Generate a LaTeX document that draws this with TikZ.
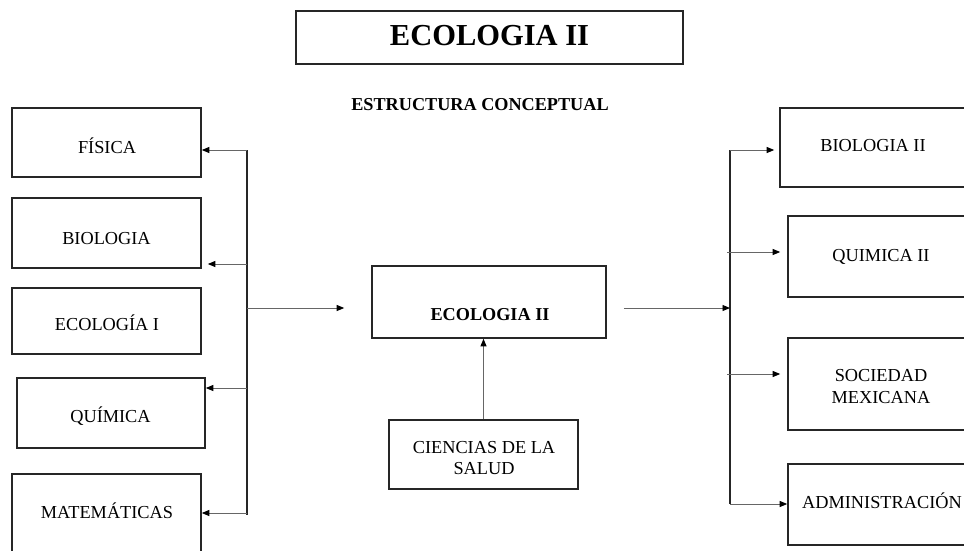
\documentclass[tikz,border=0pt]{standalone}
\usepackage{fontspec}
\setmainfont{Liberation Serif}
\usetikzlibrary{arrows.meta}
\begin{document}
\begin{tikzpicture}[x=1pt,y=-1pt,
  box/.style={draw=black!85, line width=1.6pt, rectangle, inner sep=0pt},
  lbl/.style={anchor=base, inner sep=0pt, font=\fontsize{18.3}{21}\selectfont},
  lblb/.style={anchor=base, inner sep=0pt, font=\fontsize{18.2}{21}\selectfont\bfseries},
  mlbl/.style={anchor=center, inner sep=0pt, align=center, font=\fontsize{18.3}{21.5}\selectfont},
  arr/.style={-{Triangle[length=7.5pt,width=6pt,black]}, line width=0.9pt, draw=black!60},
  bus/.style={line width=1.4pt, draw=black!85}]
\useasboundingbox (0,0) rectangle (964,550);
\clip (0,0) rectangle (964,550);
\fill[white] (0,0) rectangle (964,550);

% title
\node[box, minimum width=387pt, minimum height=53pt] (title) at (489.5,37.5) {};
\node[anchor=base, inner sep=0pt, font=\fontsize{30.5}{34}\selectfont\bfseries] (titletxt) at (489.5,45) {ECOLOGIA II};
\node[lblb] (estr) at (480,110) {ESTRUCTURA CONCEPTUAL};

% left boxes
\node[box, minimum width=189pt, minimum height=69pt] (fis) at (106.5,142.5) {};
\node[lbl] (fist) at (107,153.3) {FÍSICA};
\node[box, minimum width=189pt, minimum height=70pt] (bio) at (106.5,233) {};
\node[lbl] (biot) at (106.5,244) {BIOLOGIA};
\node[box, minimum width=189pt, minimum height=66pt] (eco1) at (106.5,321) {};
\node[lbl] (eco1t) at (107,330.7) {ECOLOGÍA I};
\node[box, minimum width=188pt, minimum height=70pt] (qui) at (111,413) {};
\node[lbl] (quit) at (110.5,422) {QUÍMICA};
\node[box, minimum width=189pt, minimum height=86pt] (mat) at (106.5,517) {};
\node[lbl] (matt) at (107,518) {MATEMÁTICAS};

% center
\node[box, minimum width=234pt, minimum height=72pt] (eco) at (489,302) {};
\node[lblb] (ecot) at (490,320) {ECOLOGIA II};
\node[box, minimum width=189pt, minimum height=69pt] (cs) at (483.5,454.5) {};
\node[mlbl] (cst) at (484,458) {CIENCIAS DE LA\\SALUD};

% right boxes
\node[box, minimum width=186pt, minimum height=79pt] (bio2) at (873,147.5) {};
\node[lbl] (bio2t) at (873,151.7) {BIOLOGIA II};
\node[box, minimum width=188pt, minimum height=81pt] (qui2) at (882,256.5) {};
\node[lbl] (qui2t) at (881,261.7) {QUIMICA II};
\node[box, minimum width=188pt, minimum height=92pt] (soc) at (882,384) {};
\node[mlbl] (soct) at (881,386.4) {SOCIEDAD\\MEXICANA};
\node[box, minimum width=188pt, minimum height=81pt] (adm) at (882,504.5) {};
\node[lbl] (admt) at (882,508) {ADMINISTRACIÓN};

% left bus
\coordinate (lT) at (247,150);
\coordinate (lB) at (247,515);
\coordinate (l2) at (247,264);
\coordinate (l3) at (247,308);
\coordinate (l4) at (247,388);
\coordinate (l5) at (247,513);
\draw[bus] (lT) -- (lB);
\draw[arr] (lT) -- (lT -| fis.east);
\draw[arr, shorten >=6pt] (l2) -- (l2 -| bio.east);
\draw[arr] (l4) -- (l4 -| qui.east);
\draw[arr] (l5) -- (l5 -| mat.east);
\draw[arr, shorten >=27pt] (l3) -- (l3 -| eco.west);

% center link
\draw[arr] (cs.north) -- (cs.north |- eco.south);

% right bus
\coordinate (rT) at (730,150);
\coordinate (rB) at (730,504);
\coordinate (r2) at (727,252);
\coordinate (r3) at (730,308);
\coordinate (r4) at (727,374);
\draw[bus] (rT) -- (rB);
\draw[arr, shorten <=17pt] (eco.east |- r3) -- (r3);
\draw[arr, shorten >=5pt] (rT) -- (rT -| bio2.west);
\draw[arr, shorten >=7pt] (r2) -- (r2 -| qui2.west);
\draw[arr, shorten >=7pt] (r4) -- (r4 -| soc.west);
\draw[arr] (rB) -- (rB -| adm.west);
\end{tikzpicture}
\end{document}
